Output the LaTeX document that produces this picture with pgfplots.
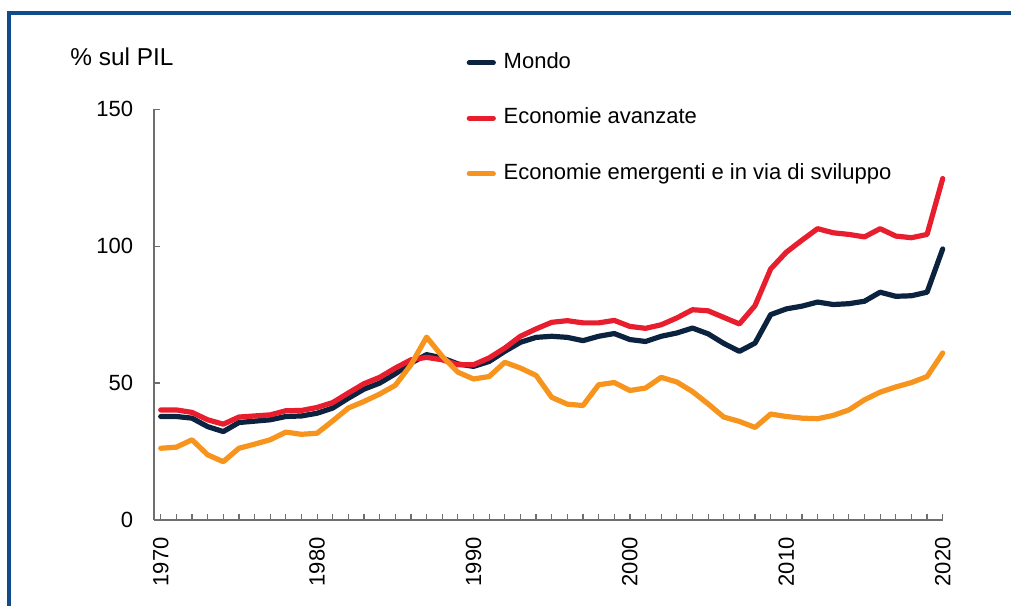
\documentclass[border=0pt]{standalone}
\usepackage{pgfplots}
\pgfplotsset{compat=1.18}
\usepackage{pgfplotstable}
\usepackage{fontspec}
\setmainfont{Liberation Sans}
\definecolor{navy}{RGB}{12,35,64}
\definecolor{cred}{RGB}{232,30,46}
\definecolor{corange}{RGB}{247,148,30}
\definecolor{frameblue}{RGB}{16,76,140}
\definecolor{axgray}{RGB}{110,110,110}
\pgfplotstableread{
year mondo adv emde
1970 37.8 40.2 26.2
1971 37.8 40.2 26.6
1972 37.2 39.3 29.3
1973 34.1 36.6 23.8
1974 32.3 35.0 21.3
1975 35.6 37.6 26.2
1976 36.1 38.0 27.7
1977 36.6 38.4 29.3
1978 37.8 39.9 32.1
1979 38.0 40.0 31.3
1980 39.0 41.1 31.7
1981 40.9 42.9 36.2
1982 44.5 46.4 40.9
1983 47.8 49.8 43.3
1984 50.0 52.1 46.0
1985 53.4 55.5 49.2
1986 57.3 58.5 56.7
1987 60.4 59.4 66.8
1988 59.2 58.5 59.8
1989 57.0 56.7 54.0
1990 56.1 56.7 51.5
1991 57.9 59.2 52.4
1992 61.6 62.8 57.6
1993 64.9 67.1 55.5
1994 66.7 69.8 52.8
1995 67.1 72.2 44.8
1996 66.7 72.8 42.3
1997 65.5 72.0 41.8
1998 67.1 72.0 49.4
1999 68.1 72.9 50.2
2000 65.9 70.7 47.3
2001 65.2 70.0 48.2
2002 67.1 71.3 52.1
2003 68.3 73.8 50.4
2004 70.1 76.8 46.9
2005 68.0 76.4 42.4
2006 64.5 74.0 37.6
2007 61.6 71.6 36.0
2008 64.6 78.3 33.8
2009 75.0 91.7 38.7
2010 77.1 97.8 37.8
2011 78.1 102.2 37.2
2012 79.6 106.4 37.0
2013 78.7 104.9 38.2
2014 79.0 104.3 40.2
2015 79.9 103.4 43.9
2016 83.2 106.4 46.7
2017 81.7 103.7 48.6
2018 81.9 103.1 50.2
2019 83.2 104.3 52.4
2020 99.0 124.7 61.0
}\datatable
\begin{document}
\begin{tikzpicture}
\useasboundingbox (0,0) rectangle (505.5bp,303bp);
\draw[frameblue, line width=1.6bp] (4.5bp,0) -- (4.5bp,296.5bp) -- (505.5bp,296.5bp);
\node[anchor=west, inner sep=0pt, font=\fontsize{12.2bp}{14bp}\selectfont] at (35bp,274.5bp) {\% sul PIL};
\begin{axis}[
  at={(77bp,43bp)}, anchor=south west,
  scale only axis, width=394.35bp, height=205.35bp,
  xmin=1969.57, xmax=2020, ymin=0, ymax=150,
  clip=false,
  axis lines=left,
  axis line style={-, draw=axgray, line width=0.6bp},
  tick style={draw=axgray, line width=0.6bp},
  tick align=inside,
  major tick length=3bp, minor tick length=3bp,
  xtick={1970,1980,...,2020},
  minor x tick num=9,
  ytick={0,50,100,150},
  /pgf/number format/assume math mode=true,
  /pgf/number format/1000 sep={},
  tick label style={font=\fontsize{11bp}{13bp}\selectfont, black},
  xticklabel style={rotate=90, anchor=east, inner sep=0pt, xshift=-8.5bp},
  yticklabel style={inner sep=0pt, xshift=-10.3bp},
  legend cell align=left,
  legend style={draw=none, fill=none, at={(axis description cs:0.396,1.1395)}, anchor=north west,
    font=\fontsize{11bp}{13bp}\selectfont,
    nodes={inner sep=0pt, text height=8bp, text depth=2.3bp},
    row sep=17.45bp, column sep=3.9bp, inner sep=0pt},
  legend image code/.code={\draw[#1, line cap=round] (0bp,0bp) -- (12bp,0bp);},
  every axis plot/.append style={line width=2.6bp, line join=round, line cap=round, no markers},
]
\addplot[navy] table[x=year, y=mondo] {\datatable};
\addlegendentry{Mondo}
\addplot[cred] table[x=year, y=adv] {\datatable};
\addlegendentry{Economie avanzate}
\addplot[corange] table[x=year, y=emde] {\datatable};
\addlegendentry{Economie emergenti e in via di sviluppo}
\end{axis}
\end{tikzpicture}
\end{document}
